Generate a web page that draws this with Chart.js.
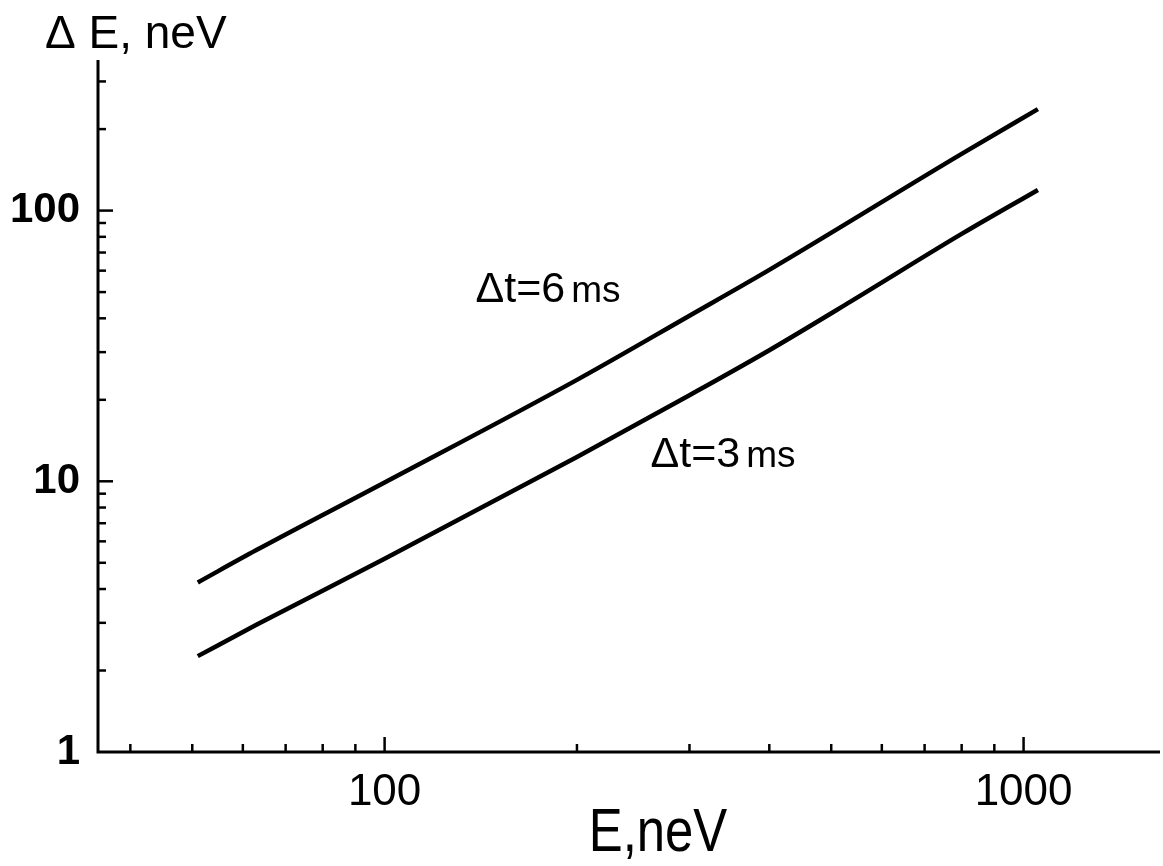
<!DOCTYPE html>
<html>
<head>
<meta charset="utf-8">
<script src="https://cdn.jsdelivr.net/npm/chart.js@4.4.1/dist/chart.umd.min.js"></script>
<style>
  html, body { margin: 0; padding: 0; background: #fff; overflow: hidden; }
  #wrap { width: 1163px; height: 866px; }
</style>
</head>
<body>
<div id="wrap"><canvas id="chart"></canvas></div>
<script>
// energy E (neV) and resolution dE (neV)
const energy6 = [51, 63, 100, 200, 300, 400, 800, 1053];
const dE6 = [4.23, 5.57, 9.9, 23.7, 40.9, 60.4, 162, 237];
const energy3 = [51, 63, 100, 200, 300, 400, 536, 800, 1053];
const dE3 = [2.26, 2.95, 5.17, 12.29, 20.8, 30.5, 46.1, 82, 119.2];

const xTickLabels = [100, 1000];
const yTickLabels = [1, 10, 100];

// curve labels, anchored in data coordinates (left edge, baseline)
const noteMain = ['\u0394t=6', '\u0394t=3'];
const noteUnit = 'ms';
const noteE = [138.8, 260.7];
const noteDE = [46, 11.3];

const FONT = "'Liberation Sans', Arial, sans-serif";

function isDecade(v, list) {
  return list.some(d => Math.abs(v - d) < d * 1e-6);
}

// axes with inward ticks + texts
const axesPlugin = {
  id: 'axesPlugin',
  afterDraw(chart) {
    const ctx = chart.ctx;
    const xs = chart.scales.x, ys = chart.scales.y;
    const a = chart.chartArea;
    ctx.save();
    ctx.strokeStyle = '#000';
    ctx.lineWidth = 3;
    ctx.lineCap = 'butt';
    ctx.beginPath();
    ctx.moveTo(a.left, a.top);
    ctx.lineTo(a.left, a.bottom);
    ctx.lineTo(a.right, a.bottom);
    ctx.stroke();

    ctx.lineWidth = 2.5;
    for (let p = 0; p <= 3; p++) {
      for (let m = 1; m <= 9; m++) {
        const v = m * Math.pow(10, p);
        const len = m === 1 ? 15 : 8;
        if (v > xs.min && v <= xs.max) {
          const px = xs.getPixelForValue(v);
          ctx.beginPath();
          ctx.moveTo(px, a.bottom);
          ctx.lineTo(px, a.bottom - len);
          ctx.stroke();
        }
        if (v > ys.min && v <= ys.max) {
          const py = ys.getPixelForValue(v);
          ctx.beginPath();
          ctx.moveTo(a.left, py);
          ctx.lineTo(a.left + len, py);
          ctx.stroke();
        }
      }
    }

    ctx.fillStyle = '#000';
    ctx.textBaseline = 'alphabetic';
    ctx.textAlign = 'left';
    noteMain.forEach((t, i) => {
      const px = xs.getPixelForValue(noteE[i]);
      const py = ys.getPixelForValue(noteDE[i]);
      ctx.font = '43px ' + FONT;
      const w = ctx.measureText(t).width;
      ctx.fillText(t, px, py);
      ctx.font = '37px ' + FONT;
      ctx.fillText(noteUnit, px + w + 6, py);
    });

    // axis titles
    ctx.font = '46px ' + FONT;
    ctx.fillText('\u0394 E, neV', a.left - 53, 48);
    ctx.font = '62px ' + FONT;
    ctx.textAlign = 'center';
    ctx.save();
    ctx.translate(658, 851);
    ctx.scale(0.82, 1);
    ctx.fillText('E,neV', 0, 0);
    ctx.restore();
    ctx.restore();
  }
};

new Chart(document.getElementById('chart'), {
  type: 'line',
  data: {
    datasets: [
      {
        label: '\u0394t=6ms',
        data: energy6.map((e, i) => ({ x: e, y: dE6[i] })),
        borderColor: '#000',
        borderWidth: 4.5,
        pointRadius: 0,
        cubicInterpolationMode: 'monotone',
        fill: false
      },
      {
        label: '\u0394t=3ms',
        data: energy3.map((e, i) => ({ x: e, y: dE3[i] })),
        borderColor: '#000',
        borderWidth: 4.5,
        pointRadius: 0,
        cubicInterpolationMode: 'monotone',
        fill: false
      }
    ]
  },
  options: {
    responsive: true,
    maintainAspectRatio: false,
    animation: false,
    layout: { padding: { top: 60, right: 3, left: 0, bottom: 0 } },
    plugins: { legend: { display: false }, tooltip: { enabled: false } },
    scales: {
      x: {
        type: 'logarithmic',
        min: 35.6,
        max: 1635,
        grid: { display: false, drawTicks: false },
        border: { display: false },
        afterFit(scale) {
          scale.height = 114;
          scale.paddingLeft = 0;
          scale.paddingRight = 0;
        },
        ticks: {
          autoSkip: false,
          maxRotation: 0,
          padding: 14,
          color: '#000',
          font: { family: FONT, size: 44 },
          callback: v => isDecade(v, xTickLabels) ? String(Math.round(v)) : ''
        }
      },
      y: {
        type: 'logarithmic',
        min: 1,
        max: 360,
        grid: { display: false, drawTicks: false },
        border: { display: false },
        afterFit(scale) {
          scale.width = 98;
          scale.paddingTop = 0;
          scale.paddingBottom = 0;
        },
        ticks: {
          autoSkip: false,
          padding: 18,
          color: '#000',
          font: { family: FONT, size: 42, weight: 'bold' },
          callback: v => isDecade(v, yTickLabels) ? String(Math.round(v)) : ''
        }
      }
    }
  },
  plugins: [axesPlugin]
});
</script>
</body>
</html>
